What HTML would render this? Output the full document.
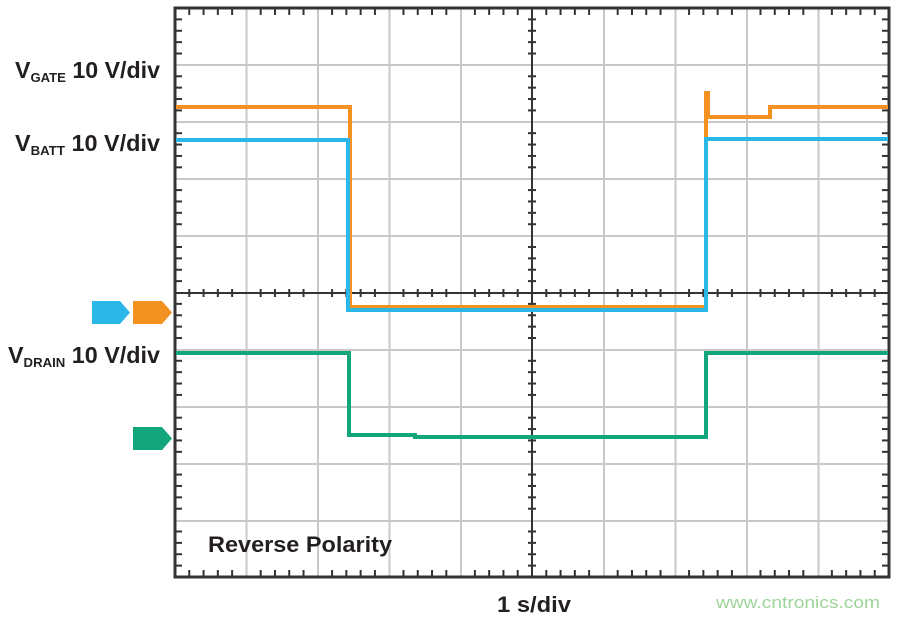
<!DOCTYPE html>
<html><head><style>
body{margin:0;background:#fff;width:900px;height:618px;overflow:hidden;font-family:"Liberation Sans",sans-serif;}
</style></head><body>
<svg width="900" height="618" xmlns="http://www.w3.org/2000/svg" font-family="Liberation Sans, sans-serif">
<rect width="900" height="618" fill="#fff"/>
<g stroke="#c8c8c8" stroke-width="2">
<line x1="246.5" y1="8" x2="246.5" y2="577"/><line x1="318" y1="8" x2="318" y2="577"/><line x1="389.5" y1="8" x2="389.5" y2="577"/><line x1="461" y1="8" x2="461" y2="577"/>
<line x1="604" y1="8" x2="604" y2="577"/><line x1="675.5" y1="8" x2="675.5" y2="577"/><line x1="747" y1="8" x2="747" y2="577"/><line x1="818.5" y1="8" x2="818.5" y2="577"/>
<line x1="175" y1="65" x2="889" y2="65"/><line x1="175" y1="122" x2="889" y2="122"/><line x1="175" y1="179" x2="889" y2="179"/><line x1="175" y1="236" x2="889" y2="236"/>
<line x1="175" y1="350" x2="889" y2="350"/><line x1="175" y1="407" x2="889" y2="407"/><line x1="175" y1="464" x2="889" y2="464"/><line x1="175" y1="521" x2="889" y2="521"/>
</g>
<g stroke="#333" stroke-width="2">
<line x1="532" y1="8" x2="532" y2="577"/><line x1="175" y1="293" x2="889" y2="293"/>
</g>
<g id="ticks" stroke="#333" stroke-width="2"></g>
<rect x="175" y="8" width="714" height="569" fill="none" stroke="#333" stroke-width="3"/>
<g fill="none" stroke-width="4" stroke-linejoin="miter">
<polyline stroke="#f39221" points="176,107 350,107 350,307 706,307 706,93 708,93 708,117 770,117 770,107 888,107"/>
<polyline stroke="#2bb8e8" points="176,140 348,140 348,310 706,310 706,139 888,139"/>
<polyline stroke="#13a57c" points="176,353 349,353 349,435 415,435 415,437 706,437 706,353 888,353"/>
</g>
<polygon fill="#2bb8e8" points="92,301 120,301 130,312.5 120,324 92,324"/>
<polygon fill="#f39221" points="133,301 162,301 172,312.5 162,324 133,324"/>
<polygon fill="#13a57c" points="133,427 162,427 172,438.5 162,450 133,450"/>
<g fill="#231f20" font-weight="bold" font-size="23">
<text x="15" y="78" textLength="145" lengthAdjust="spacingAndGlyphs">V<tspan font-size="13" dy="4">GATE</tspan><tspan dy="-4"> 10 V/div</tspan></text>
<text x="15" y="151" textLength="145" lengthAdjust="spacingAndGlyphs">V<tspan font-size="13" dy="4">BATT</tspan><tspan dy="-4"> 10 V/div</tspan></text>
<text x="8" y="363" textLength="152" lengthAdjust="spacingAndGlyphs">V<tspan font-size="13" dy="4">DRAIN</tspan><tspan dy="-4"> 10 V/div</tspan></text>
<text x="208" y="552" font-size="22" textLength="184" lengthAdjust="spacingAndGlyphs">Reverse Polarity</text>
<text x="497" y="612" font-size="22" textLength="74" lengthAdjust="spacingAndGlyphs">1 s/div</text>
</g>
<text x="716" y="608" font-size="17" fill="#9ed49a" textLength="164" lengthAdjust="spacingAndGlyphs">www.cntronics.com</text>
</svg>
<script>
var g=document.getElementById('ticks'),s='';
for(var i=0;i<50;i++){var x=175+i*14.28;if(i%5){s+='<line x1="'+x+'" y1="8" x2="'+x+'" y2="15"/><line x1="'+x+'" y1="570" x2="'+x+'" y2="577"/><line x1="'+x+'" y1="289" x2="'+x+'" y2="297"/>';}}
for(var j=0;j<50;j++){var y=8+j*11.38;if(j%5){s+='<line x1="175" y1="'+y+'" x2="182" y2="'+y+'"/><line x1="882" y1="'+y+'" x2="889" y2="'+y+'"/><line x1="528" y1="'+y+'" x2="536" y2="'+y+'"/>';}}
g.innerHTML=s;
</script>
</body></html>
